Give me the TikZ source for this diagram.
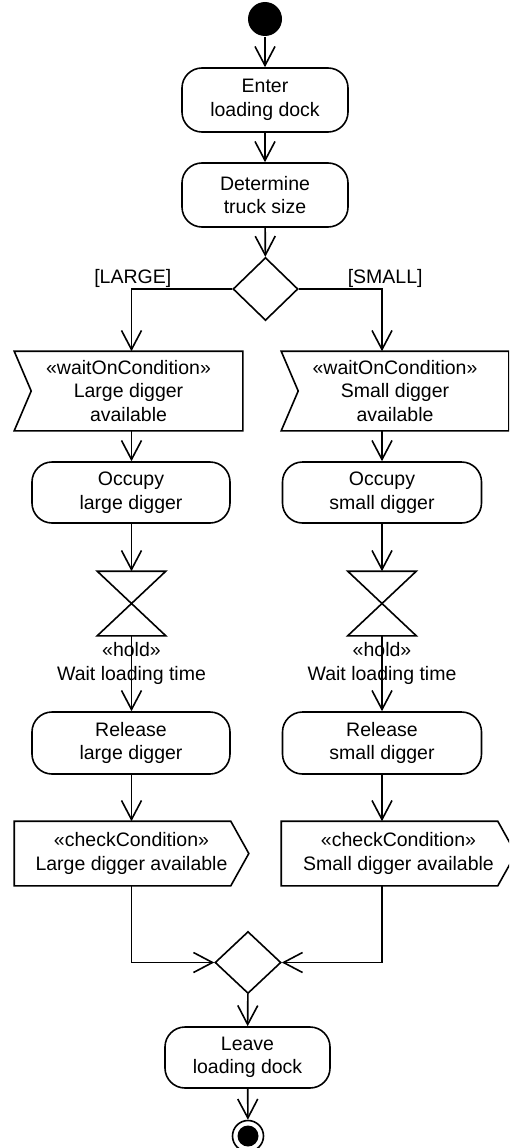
\documentclass[tikz,border=0pt]{standalone}
\usepackage{fontspec}
\setmainfont{Liberation Sans}
\usetikzlibrary{arrows.meta,shapes.geometric,calc}

\begin{document}
\begin{tikzpicture}[x=1pt,y=-1pt,
  line width=1.6pt,
  every node/.style={font=\fontsize{19.5}{23.5}\selectfont, align=center, inner sep=0pt},
  arr/.style={-{Straight Barb[length=19pt,width=20pt]}},
  action/.style={draw, rectangle, rounded corners=20pt, minimum width=#1},
  frame/.style={rectangle, minimum width=#1},
  decision/.style={draw, diamond, minimum width=65pt, minimum height=63pt},
  glass/.style={rectangle, minimum width=67pt, minimum height=63pt}
]
\clip (0,0) rectangle (509,1148);

% initial node and first actions
\node[circle, fill, minimum size=34pt] (init) at (265,19) {};
\node[action=166pt, minimum height=64pt] (enter) at (265,100) {Enter\\loading dock};
\node[action=166pt, minimum height=64pt] (det) at (265,195) {Determine\\truck size};
\node[decision] (dec) at (265.5,289) {};

% column guides
\coordinate (colL) at (131.5,0);
\coordinate (colR) at (382,0);

% accept-event actions
\node[frame=227pt, minimum height=78pt] (wL) at (128.5,391) {«waitOnCondition»\\Large digger\\available};
\draw (wL.north west) -- (wL.north east) -- (wL.south east) -- (wL.south west) -- ($(wL.west)+(17,0)$) -- cycle;
\node[frame=226pt, minimum height=78pt] (wR) at (395,391) {«waitOnCondition»\\Small digger\\available};
\draw (wR.north west) -- (wR.north east) -- (wR.south east) -- (wR.south west) -- ($(wR.west)+(17,0)$) -- cycle;

% occupy
\node[action=198pt, minimum height=61pt] (occL) at (131,492.5) {Occupy\\large digger};
\node[action=199pt, minimum height=61pt] (occR) at (382,492.5) {Occupy\\small digger};

% time events
\node[glass] (hgL) at (131.5,603.5) {};
\draw (hgL.north west) -- (hgL.north east) -- (hgL.south west) -- (hgL.south east) -- cycle;
\node[glass] (hgR) at (382,603.5) {};
\draw (hgR.north west) -- (hgR.north east) -- (hgR.south west) -- (hgR.south east) -- cycle;
\node (holdL) at (131.5,663.5) {«hold»\\Wait loading time};
\node (holdR) at (382,663.5) {«hold»\\Wait loading time};

% release
\node[action=198pt, minimum height=62pt] (relL) at (131,743) {Release\\large digger};
\node[action=199pt, minimum height=62pt] (relR) at (382,743) {Release\\small digger};

% send-signal actions
\node[frame=233pt, minimum height=63pt] (chkL) at (131.5,853.5) {«checkCondition»\\Large digger available};
\draw (chkL.north west) -- ($(chkL.north east)+(-18,0)$) -- (chkL.east) -- ($(chkL.south east)+(-18,0)$) -- (chkL.south west) -- cycle;
\node[frame=233pt, minimum height=63pt] (chkR) at (398.5,853.5) {«checkCondition»\\Small digger available};
\draw (chkR.north west) -- ($(chkR.north east)+(-18,0)$) -- (chkR.east) -- ($(chkR.south east)+(-18,0)$) -- (chkR.south west) -- cycle;

% merge and end
\node[decision, minimum width=66pt, minimum height=62pt] (merge) at (248,962.5) {};
\node[action=165pt, minimum height=61pt] (leave) at (247.5,1057.5) {Leave\\loading dock};
\node[circle, draw, minimum size=31pt] (fin) at (248,1136) {};
\fill (fin.center) circle[radius=10.5];

% guards
\node[anchor=base east] (lblL) at (172,283) {[LARGE]};
\node[anchor=base west] (lblR) at (347,283) {[SMALL]};

% flows
\draw[arr] (init) -- (enter);
\draw[arr] (enter) -- (det);
\draw[arr] (det) -- (dec);
\draw[arr] (dec.west) -| (colL |- wL.north);
\draw[arr] (dec.east) -| (colR |- wR.north);
\draw[arr] (colL |- wL.south) -- (colL |- occL.north);
\draw[arr] (colR |- wR.south) -- (occR.north);
\draw[arr] (colL |- occL.south) -- (hgL.north);
\draw[arr] (occR.south) -- (hgR.north);
\draw[arr] (hgL.south) -- (colL |- relL.north);
\draw[arr] (hgR.south) -- (relR.north);
\draw[arr] (colL |- relL.south) -- (colL |- chkL.north);
\draw[arr] (relR.south) -- (colR |- chkR.north);
\draw[arr] (colL |- chkL.south) |- (merge.west);
\draw[arr] (colR |- chkR.south) |- (merge.east);
\draw[arr] (merge) -- (leave);
\draw[arr] (leave) -- (fin);
\end{tikzpicture}
\end{document}
